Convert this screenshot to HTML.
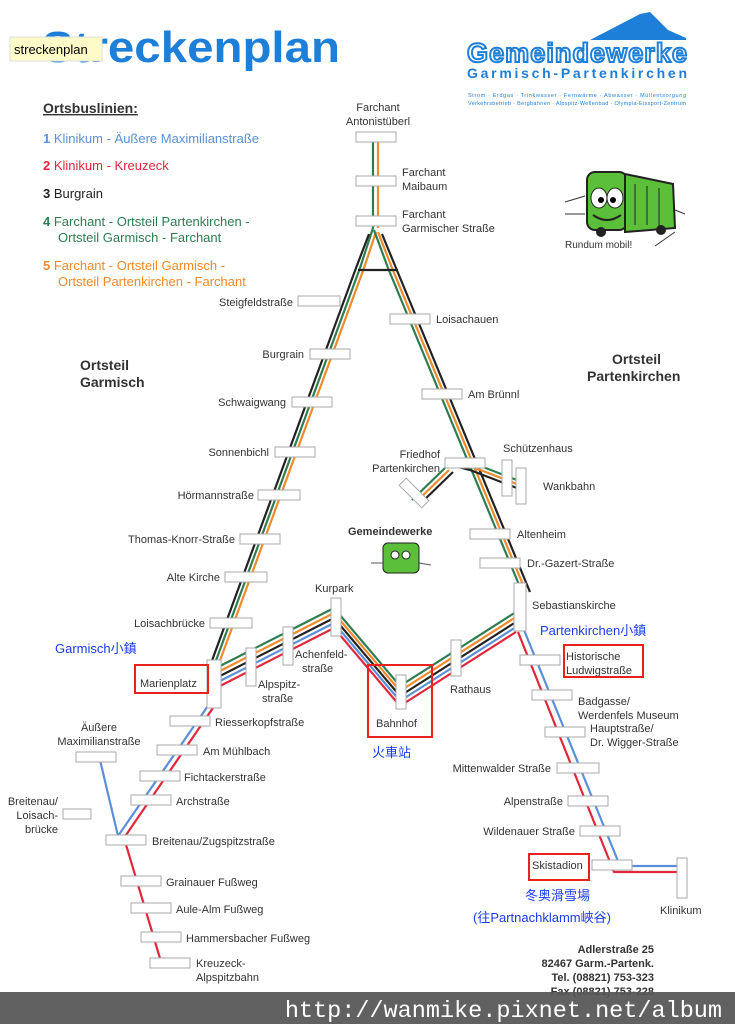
<!DOCTYPE html>
<html><head><meta charset="utf-8"><style>
body{margin:0;width:735px;height:1024px;overflow:hidden;background:#fff;font-family:"Liberation Sans",sans-serif}
svg{position:absolute;left:0;top:0}
</style></head><body>
<svg width="735" height="1024" viewBox="0 0 735 1024" font-family="Liberation Sans, Noto Sans CJK TC, sans-serif">
<rect width="735" height="1024" fill="#fff"/>
<!-- title -->
<text x="42" y="62" font-size="44" font-weight="bold" fill="#1e7fd8" textLength="298" lengthAdjust="spacingAndGlyphs">Streckenplan</text>
<rect x="10" y="37" width="92" height="24" fill="#fffbc8" stroke="#ddd"/>
<text x="14" y="54" font-size="13" fill="#000">streckenplan</text>
<!-- logo -->
<polygon points="590,40 640,14 650,12 668,30 686,38 686,40" fill="#1e7fd8"/>
<text x="467" y="62" font-size="27" font-weight="bold" fill="#fff" stroke="#1e7fd8" stroke-width="2" textLength="220">Gemeindewerke</text>
<text x="467" y="78" font-size="14" font-weight="bold" fill="#1e7fd8" textLength="220">Garmisch-Partenkirchen</text>
<text x="468" y="97" font-size="5.5" fill="#1e7fd8" textLength="218">Strom · Erdgas · Trinkwasser · Fernwärme · Abwasser · Müllentsorgung</text>
<text x="468" y="105" font-size="5.5" fill="#1e7fd8" textLength="218">Verkehrsbetrieb · Bergbahnen · Alpspitz-Wellenbad · Olympia-Eissport-Zentrum</text>
<!-- bus top right -->
<g transform="translate(565,170)">
<rect x="22" y="2" width="40" height="58" rx="8" fill="#5cbf3a" stroke="#222" stroke-width="2"/>
<polygon points="60,4 108,14 110,58 60,62" fill="#5cbf3a" stroke="#222" stroke-width="2"/>
<line x1="70" y1="14" x2="70" y2="55" stroke="#222"/><line x1="82" y1="16" x2="82" y2="55" stroke="#222"/><line x1="94" y1="18" x2="94" y2="56" stroke="#222"/>
<ellipse cx="34" cy="28" rx="8" ry="10" fill="#fff" stroke="#222"/><ellipse cx="50" cy="28" rx="8" ry="10" fill="#fff" stroke="#222"/>
<circle cx="36" cy="30" r="3"/><circle cx="48" cy="30" r="3"/>
<path d="M28 45 Q42 55 56 45" stroke="#222" fill="none" stroke-width="2"/>
<circle cx="36" cy="62" r="5" fill="#222"/><circle cx="96" cy="60" r="5" fill="#222"/>
<line x1="0" y1="32" x2="20" y2="26" stroke="#333"/><line x1="0" y1="44" x2="20" y2="44" stroke="#333"/>
<line x1="110" y1="40" x2="120" y2="44" stroke="#333"/><line x1="90" y1="76" x2="110" y2="62" stroke="#333"/>
</g>
<text x="565" y="248" font-size="10" fill="#333">Rundum mobil!</text>
<!-- legend -->
<text x="43" y="113" font-size="14" font-weight="bold" fill="#333" text-decoration="underline">Ortsbuslinien:</text>
<g font-size="13">
<text x="43" y="143" fill="#5b8fd8"><tspan font-weight="bold">1</tspan>  Klinikum - Äußere Maximilianstraße</text>
<text x="43" y="170" fill="#e0283c"><tspan font-weight="bold">2</tspan>  Klinikum - Kreuzeck</text>
<text x="43" y="198" fill="#222"><tspan font-weight="bold">3</tspan>  Burgrain</text>
<text x="43" y="226" fill="#2e7d52"><tspan font-weight="bold">4</tspan>  Farchant - Ortsteil Partenkirchen -</text>
<text x="58" y="242" fill="#2e7d52">Ortsteil Garmisch - Farchant</text>
<text x="43" y="270" fill="#f08a2a"><tspan font-weight="bold">5</tspan>  Farchant - Ortsteil Garmisch -</text>
<text x="58" y="286" fill="#f08a2a">Ortsteil Partenkirchen  - Farchant</text>
</g>
<text x="80" y="370" font-size="14" font-weight="bold" fill="#333">Ortsteil</text>
<text x="80" y="387" font-size="14" font-weight="bold" fill="#333">Garmisch</text>
<text x="612" y="364" font-size="14" font-weight="bold" fill="#333">Ortsteil</text>
<text x="587" y="381" font-size="14" font-weight="bold" fill="#333">Partenkirchen</text>
<!-- lines -->
<g fill="none" stroke-width="2.2" stroke-linejoin="round">
<polyline points="373,140 373,228 360,268 214,666" stroke="#2e7d52"/>
<polyline points="378,140 378,228" stroke="#f08a2a"/>
<polyline points="376,232 364,268 218,666" stroke="#f08a2a"/>
<polyline points="369,234 356,268 210,666" stroke="#222"/>
<polyline points="374,230 388,268 522,592" stroke="#2e7d52"/>
<polyline points="378,232 392,268 526,592" stroke="#f08a2a"/>
<polyline points="382,234 396,268 530,592" stroke="#222"/>
<line x1="358" y1="270" x2="398" y2="270" stroke="#222"/>
<polyline points="455,462 470,466 522,486" stroke="#f08a2a"/>
<polyline points="455,466 470,470 522,490" stroke="#222"/>
<polyline points="455,459 470,462 522,482" stroke="#2e7d52"/>
<line x1="445" y1="468" x2="412" y2="500" stroke="#2e7d52"/>
<line x1="449" y1="470" x2="416" y2="502" stroke="#f08a2a"/>
<line x1="453" y1="472" x2="420" y2="504" stroke="#222"/>
<polyline points="220,666 334,608 400,686 516,612" stroke="#2e7d52"/>
<polyline points="220,671 334,613 400,691 516,617" stroke="#f08a2a"/>
<polyline points="220,676 334,618 400,696 516,622" stroke="#222"/>
<polyline points="220,681 334,623 400,701 516,627" stroke="#5b8fd8"/>
<polyline points="220,686 334,628 400,706 516,632" stroke="#e0283c"/>
<polyline points="212,700 118,836" stroke="#5b8fd8"/>
<polyline points="217,702 124,838 162,965" stroke="#e0283c"/>
<polyline points="118,836 100,760" stroke="#5b8fd8"/>
<polyline points="524,630 620,866 680,866" stroke="#5b8fd8"/>
<polyline points="518,632 614,872 680,872" stroke="#e0283c"/>
</g>
<!-- station rects -->
<g fill="#fff" stroke="#aaa" stroke-width="1">
<rect x="356" y="132" width="40" height="10"/>
<rect x="356" y="176" width="40" height="10"/>
<rect x="356" y="216" width="40" height="10"/>
<rect x="298" y="296" width="42" height="10"/>
<rect x="310" y="349" width="40" height="10"/>
<rect x="292" y="397" width="40" height="10"/>
<rect x="275" y="447" width="40" height="10"/>
<rect x="258" y="490" width="42" height="10"/>
<rect x="240" y="534" width="40" height="10"/>
<rect x="225" y="572" width="42" height="10"/>
<rect x="210" y="618" width="42" height="10"/>
<rect x="207" y="660" width="14" height="48"/>
<rect x="390" y="314" width="40" height="10"/>
<rect x="422" y="389" width="40" height="10"/>
<rect x="445" y="458" width="40" height="10"/>
<rect x="502" y="460" width="10" height="36"/>
<rect x="516" y="468" width="10" height="36"/>
<rect x="398" y="488" width="32" height="10" transform="rotate(45 414 493)"/>
<rect x="470" y="529" width="40" height="10"/>
<rect x="480" y="558" width="40" height="10"/>
<rect x="514" y="583" width="12" height="48"/>
<rect x="246" y="648" width="10" height="38"/>
<rect x="283" y="627" width="10" height="38"/>
<rect x="331" y="598" width="10" height="38"/>
<rect x="396" y="675" width="10" height="34"/>
<rect x="451" y="640" width="10" height="36"/>
<rect x="170" y="716" width="40" height="10"/>
<rect x="157" y="745" width="40" height="10"/>
<rect x="140" y="771" width="40" height="10"/>
<rect x="131" y="795" width="40" height="10"/>
<rect x="76" y="752" width="40" height="10"/>
<rect x="63" y="809" width="28" height="10"/>
<rect x="106" y="835" width="40" height="10"/>
<rect x="121" y="876" width="40" height="10"/>
<rect x="131" y="903" width="40" height="10"/>
<rect x="141" y="932" width="40" height="10"/>
<rect x="150" y="958" width="40" height="10"/>
<rect x="520" y="655" width="40" height="10"/>
<rect x="532" y="690" width="40" height="10"/>
<rect x="545" y="727" width="40" height="10"/>
<rect x="557" y="763" width="42" height="10"/>
<rect x="568" y="796" width="40" height="10"/>
<rect x="580" y="826" width="40" height="10"/>
<rect x="592" y="860" width="40" height="10"/>
<rect x="677" y="858" width="10" height="40"/>
</g>
<!-- labels -->
<g font-size="11" fill="#333">
<text x="378" y="111" text-anchor="middle">Farchant</text>
<text x="378" y="125" text-anchor="middle">Antonistüberl</text>
<text x="402" y="176">Farchant</text><text x="402" y="190">Maibaum</text>
<text x="402" y="218">Farchant</text><text x="402" y="232">Garmischer Straße</text>
<text x="293" y="306" text-anchor="end">Steigfeldstraße</text>
<text x="304" y="358" text-anchor="end">Burgrain</text>
<text x="286" y="406" text-anchor="end">Schwaigwang</text>
<text x="269" y="456" text-anchor="end">Sonnenbichl</text>
<text x="254" y="499" text-anchor="end">Hörmannstraße</text>
<text x="235" y="543" text-anchor="end">Thomas-Knorr-Straße</text>
<text x="220" y="581" text-anchor="end">Alte Kirche</text>
<text x="205" y="627" text-anchor="end">Loisachbrücke</text>
<text x="436" y="323">Loisachauen</text>
<text x="468" y="398">Am Brünnl</text>
<text x="440" y="458" text-anchor="end">Friedhof</text>
<text x="440" y="472" text-anchor="end">Partenkirchen</text>
<text x="503" y="452">Schützenhaus</text>
<text x="543" y="490">Wankbahn</text>
<text x="517" y="538">Altenheim</text>
<text x="527" y="567">Dr.-Gazert-Straße</text>
<text x="532" y="609">Sebastianskirche</text>
<text x="315" y="592">Kurpark</text>
<text x="295" y="658">Achenfeld-</text><text x="302" y="672">straße</text>
<text x="258" y="688">Alpspitz-</text><text x="262" y="702">straße</text>
<text x="376" y="727">Bahnhof</text>
<text x="450" y="693">Rathaus</text>
<text x="140" y="687">Marienplatz</text>
<text x="215" y="726">Riesserkopfstraße</text>
<text x="203" y="755">Am Mühlbach</text>
<text x="184" y="781">Fichtackerstraße</text>
<text x="176" y="805">Archstraße</text>
<text x="99" y="731" text-anchor="middle">Äußere</text>
<text x="99" y="745" text-anchor="middle">Maximilianstraße</text>
<text x="58" y="805" text-anchor="end">Breitenau/</text>
<text x="58" y="819" text-anchor="end">Loisach-</text>
<text x="58" y="833" text-anchor="end">brücke</text>
<text x="152" y="845">Breitenau/Zugspitzstraße</text>
<text x="166" y="886">Grainauer Fußweg</text>
<text x="176" y="913">Aule-Alm Fußweg</text>
<text x="186" y="942">Hammersbacher Fußweg</text>
<text x="196" y="967">Kreuzeck-</text><text x="196" y="981">Alpspitzbahn</text>
<text x="566" y="660">Historische</text><text x="566" y="674">Ludwigstraße</text>
<text x="578" y="705">Badgasse/</text>
<text x="578" y="719">Werdenfels Museum</text>
<text x="590" y="732">Hauptstraße/</text><text x="590" y="746">Dr. Wigger-Straße</text>
<text x="551" y="772" text-anchor="end">Mittenwalder Straße</text>
<text x="563" y="805" text-anchor="end">Alpenstraße</text>
<text x="575" y="835" text-anchor="end">Wildenauer Straße</text>
<text x="532" y="869">Skistadion</text>
<text x="660" y="914">Klinikum</text>
</g>
<text x="348" y="535" font-size="11" font-weight="bold" fill="#333">Gemeindewerke</text>
<g transform="translate(375,543)">
<rect x="8" y="0" width="36" height="30" rx="5" fill="#5cbf3a" stroke="#222"/>
<circle cx="20" cy="12" r="4" fill="#fff" stroke="#222"/><circle cx="31" cy="12" r="4" fill="#fff" stroke="#222"/>
<line x1="-4" y1="20" x2="8" y2="20" stroke="#555"/><line x1="44" y1="20" x2="56" y2="22" stroke="#555"/>
</g>
<g fill="none" stroke="#e8231d" stroke-width="2">
<rect x="135" y="665" width="73" height="28"/>
<rect x="368" y="665" width="64" height="72"/>
<rect x="564" y="645" width="79" height="32"/>
<rect x="529" y="854" width="60" height="26"/>
</g>
<g font-size="13" fill="#1a3cf0">
<text x="55" y="653">Garmisch小鎮</text>
<text x="372" y="757">火車站</text>
<text x="540" y="635">Partenkirchen小鎮</text>
<text x="525" y="900">冬奥滑雪場</text>
<text x="473" y="922">(往Partnachklamm峽谷)</text>
</g>
<g font-size="11" font-weight="bold" fill="#333" text-anchor="end">
<text x="654" y="953">Adlerstraße 25</text>
<text x="654" y="967">82467 Garm.-Partenk.</text>
<text x="654" y="981">Tel. (08821) 753-323</text>
<text x="654" y="995">Fax (08821) 753-228</text>
</g>
<rect x="0" y="992" width="735" height="32" fill="#555" opacity="0.93"/>
<text x="722" y="1017" font-family="Liberation Mono, monospace" font-size="23.5" fill="#fff" text-anchor="end">http://wanmike.pixnet.net/album</text>
</svg>
</body></html>
